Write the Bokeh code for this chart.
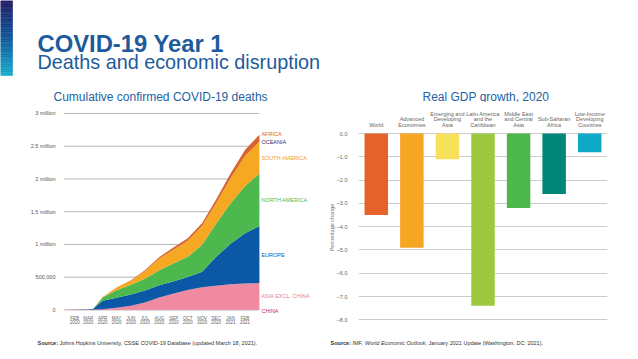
import numpy as np
import pandas as pd
from bokeh.plotting import figure
from bokeh.models import ColumnDataSource, Range1d, FixedTicker
from bokeh.layouts import column, row
from bokeh.embed import file_html
from bokeh.resources import INLINE
from bokeh.core.properties import value

FONT = "Liberation Sans"
BLUE = "#1d5b9c"

# ---------------- Cumulative confirmed COVID-19 deaths (thousands) ----------------
dates = ["2020-01-22", "2020-02-15", "2020-03-15", "2020-03-26", "2020-04-15",
         "2020-05-15", "2020-06-15", "2020-07-15", "2020-08-15", "2020-09-15",
         "2020-10-15", "2020-11-15", "2020-12-15", "2021-01-15", "2021-02-15",
         "2021-03-18"]
china = [0.02, 1.7, 3.2, 3.3, 3.3, 4.6, 4.6, 4.6, 4.7, 4.7, 4.7, 4.7, 4.7, 4.8, 4.8, 4.8]
asia_excl_china = [0, 0, 0.5, 2, 6, 28, 58, 108, 185, 245, 300, 340, 366, 386, 398, 406]
europe = [0, 0, 2.5, 12, 130, 152, 175, 183, 187, 190, 197, 240, 440, 620, 770, 870]
north_america = [0, 0, 0.1, 1, 50, 115, 148, 182, 230, 272, 310, 410, 510, 615, 718, 800]
south_america = [0, 0, 0, 0.1, 9, 40, 62, 115, 178, 213, 245, 290, 310, 385, 460, 490]
oceania = [0, 0, 0, 0.01, 0.07, 0.12, 0.13, 0.15, 0.4, 0.85, 0.93, 0.95, 0.96, 0.97, 0.98, 1.0]
africa = [0, 0, 0.01, 0.1, 1, 3, 6.5, 13, 24, 32, 37, 43, 53, 72, 92, 104]

region_names = ["CHINA", "ASIA EXCL. CHINA", "EUROPE", "NORTH AMERICA",
                "SOUTH AMERICA", "OCEANIA", "AFRICA"]
region_colors = ["#c4314b", "#f08aa0", "#0b59a6", "#4db84e", "#f7a823", "#3d2c6c", "#d9632e"]
label_colors = ["#c4314b", "#e9809a", "#0b59a6", "#4db84e", "#f0a024", "#3d2c6c", "#d9632e"]
label_y_offsets = [1, 0, 0, 0, 0, 0, -4]

month_ticks = ["2020-02-15", "2020-03-15", "2020-04-15", "2020-05-15", "2020-06-15",
               "2020-07-15", "2020-08-15", "2020-09-15", "2020-10-15", "2020-11-15",
               "2020-12-15", "2021-01-15", "2021-02-15"]
month_labels = ["FEB\n2020", "MAR\n2020", "APR\n2020", "MAY\n2020", "JUN\n2020",
                "JUL\n2020", "AUG\n2020", "SEP\n2020", "OCT\n2020", "NOV\n2020",
                "DEC\n2020", "JAN\n2021", "FEB\n2021"]
death_ticks = [0, 500, 1000, 1500, 2000, 2500, 3000]
death_tick_labels = ["0", "500,000", "1 million", "1.5 million", "2 million",
                     "2.5 million", "3 million"]

# ---------------- Real GDP growth, 2020 ----------------
gdp_regions = ["World", "Advanced Economies", "Emerging and Developing Asia",
               "Latin America and the Caribbean", "Middle East and Central Asia",
               "Sub-Saharan Africa", "Low-Income Developing Countries"]
gdp_region_labels = ["World", "Advanced\nEconomies", "Emerging and\nDeveloping\nAsia",
                     "Latin America\nand the\nCaribbean", "Middle East\nand Central\nAsia",
                     "Sub-Saharan\nAfrica", "Low-Income\nDeveloping\nCountries"]
gdp_growth = [-3.5, -4.9, -1.1, -7.4, -3.2, -2.6, -0.8]
gdp_colors = ["#e5632a", "#f6a623", "#f7e05a", "#9ec93f", "#4cb74a", "#00877a", "#10a8c9"]
gdp_ticks = [0, -1, -2, -3, -4, -5, -6, -7, -8]
gdp_tick_labels = ["0.0", "\u20131.0", "\u20132.0", "\u20133.0", "\u20134.0",
                   "\u20135.0", "\u20136.0", "\u20137.0", "\u20138.0"]


def blank(width, height):
    p = figure(width=width, height=height, x_range=Range1d(0, width),
               y_range=Range1d(height, 0), x_axis_type=None, y_axis_type=None,
               toolbar_location=None, output_backend="svg", min_border=0,
               outline_line_color=None)
    p.grid.visible = False
    return p


# ---------------- header ----------------
hdr = blank(638, 102)
n = 45
stops = [np.array([0x1e, 0x18, 0x62]), np.array([0x0c, 0x55, 0x98]), np.array([0x14, 0xa8, 0xca])]
cols = []
for t in np.linspace(0, 1, n):
    if t < 0.5:
        c = stops[0] + (stops[1] - stops[0]) * (t / 0.5)
    else:
        c = stops[1] + (stops[2] - stops[1]) * ((t - 0.5) / 0.5)
    cols.append("#%02x%02x%02x" % tuple(int(round(v)) for v in c))
edges = np.linspace(0, 75, n + 1)
hdr.quad(left=0, right=12, top=edges[:-1], bottom=edges[1:], fill_color=cols,
         line_color=cols, line_width=0.5)
hdr.text(x=[37], y=[43], text=["COVID-19 Year 1"], text_font=value(FONT),
         text_font_size="23.8px", text_font_style="bold", text_color=BLUE,
         text_baseline="alphabetic")
hdr.text(x=[37], y=[61], text=["Deaths and economic disruption"], text_font=value(FONT),
         text_font_size="19.8px", text_color=BLUE, text_baseline="alphabetic")
hdr.text(x=[53, 422], y=[96, 96],
         text=["Cumulative confirmed COVID-19 deaths", "Real GDP growth, 2020"],
         text_font=value(FONT), text_font_size="12px", text_color="#2263a3",
         text_baseline="alphabetic")

# ---------------- left chart ----------------
dt = pd.to_datetime(dates)
keys = ["china", "asia", "europe", "north_america", "south_america", "oceania", "africa"]
layers = [china, asia_excl_china, europe, north_america, south_america, oceania, africa]
src = ColumnDataSource(dict(date=dt, **{k: v for k, v in zip(keys, layers)}))

# frame continues past the last date to leave room for the region labels
left = figure(width=318, height=233, x_axis_type="datetime",
              x_range=Range1d(dt[0], dt[-1] + pd.Timedelta(days=127)),
              y_range=Range1d(-100, 3030),
              toolbar_location=None, output_backend="svg",
              min_border_left=63, min_border_right=0, min_border_top=9,
              min_border_bottom=19, outline_line_color=None, frame_align=False)
left.xgrid.visible = False
left.ygrid.visible = False
left.segment(x0=[dt[0]] * len(death_ticks), x1=[dt[-1]] * len(death_ticks),
             y0=death_ticks, y1=death_ticks, line_color="#b5b5b5", line_width=1)
left.varea_stack(stackers=keys, x="date", color=region_colors, source=src)

tick_ms = [pd.Timestamp(d).value // 10**6 for d in month_ticks]
left.xaxis.ticker = FixedTicker(ticks=tick_ms)
left.xaxis.major_label_overrides = {t: lab for t, lab in zip(tick_ms, month_labels)}
left.yaxis.ticker = FixedTicker(ticks=death_ticks)
left.yaxis.major_label_overrides = {t: lab for t, lab in zip(death_ticks, death_tick_labels)}
for ax in (left.xaxis, left.yaxis):
    ax.axis_line_color = None
    ax.major_tick_line_color = None
    ax.minor_tick_line_color = None
    ax.major_label_text_font = FONT
    ax.major_label_text_color = "#555555"
left.xaxis.major_label_text_font_size = "4.5px"
left.xaxis.major_label_text_line_height = 0.85
left.xaxis.major_label_text_color = "#666666"
left.xaxis.major_label_standoff = -7
left.yaxis.major_label_text_font_size = "5.5px"
left.yaxis.major_label_standoff = 2

last = np.array([l[-1] for l in layers])
cum = np.cumsum(last)
mids = cum - last / 2
lsrc = ColumnDataSource(dict(x=[dt[-1]] * len(region_names), y=list(mids),
                             t=region_names, c=label_colors, dy=label_y_offsets))
left.text(x="x", y="y", text="t", text_color="c", y_offset="dy", x_offset=2,
          source=lsrc, text_font=value(FONT), text_font_size="5.5px",
          text_baseline="middle")

# ---------------- right chart ----------------
gdp_x = list(range(len(gdp_regions)))
gsrc = ColumnDataSource(dict(x=gdp_x, v=gdp_growth, c=gdp_colors, name=gdp_regions))
right = figure(width=320, height=233, x_range=Range1d(-0.5, len(gdp_regions) - 0.5),
               y_range=Range1d(-8.2, 0.13), x_axis_location="above",
               toolbar_location=None, output_backend="svg",
               min_border_left=40, min_border_right=31, min_border_top=28,
               min_border_bottom=11, outline_line_color=None, frame_align=False)
right.vbar(x="x", top=0, bottom="v", width=0.66, fill_color="c", line_color=None,
           source=gsrc)
right.xaxis.ticker = FixedTicker(ticks=gdp_x)
right.xaxis.major_label_overrides = {i: lab for i, lab in zip(gdp_x, gdp_region_labels)}
right.yaxis.ticker = FixedTicker(ticks=gdp_ticks)
right.yaxis.major_label_overrides = {t: lab for t, lab in zip(gdp_ticks, gdp_tick_labels)}
for ax in (right.xaxis, right.yaxis):
    ax.axis_line_color = None
    ax.major_tick_line_color = None
    ax.minor_tick_line_color = None
    ax.major_label_text_font = FONT
    ax.major_label_text_color = "#666666"
    ax.major_label_text_font_size = "5.5px"
right.xaxis.major_label_text_line_height = 0.9
right.xaxis.major_label_standoff = -3
right.yaxis.major_label_standoff = 5
right.yaxis.axis_label = "Percentage change"
right.yaxis.axis_label_text_font = FONT
right.yaxis.axis_label_text_font_size = "5.5px"
right.yaxis.axis_label_text_font_style = "normal"
right.yaxis.axis_label_text_color = "#777777"
right.yaxis.axis_label_standoff = -1
right.xgrid.visible = False
right.ygrid.ticker = FixedTicker(ticks=gdp_ticks)
right.ygrid.grid_line_color = "#cccccc"

# ---------------- footer (sources) ----------------
ftr = blank(638, 24)
fs = "5.5px"
common = dict(text_font=value(FONT), text_font_size=fs, text_color="#333333",
              text_baseline="middle")
ftr.text(x=[37, 330], y=[7, 7], text=["Source:", "Source:"], text_font_style="bold", **common)
ftr.text(x=[59], y=[7],
         text=["Johns Hopkins University, CSSE COVID-19 Database (updated March 18, 2021)."],
         **common)
ftr.text(x=[352], y=[7], text=["IMF,"], **common)
ftr.text(x=[364.5], y=[7], text=["World Economic Outlook"], text_font_style="italic", **common)
ftr.text(x=[425], y=[7], text=[", January 2021 Update (Washington, DC: 2021)."], **common)

layout = column(hdr, row(left, right), ftr)
open("out.html", "w").write(file_html(layout, INLINE))
